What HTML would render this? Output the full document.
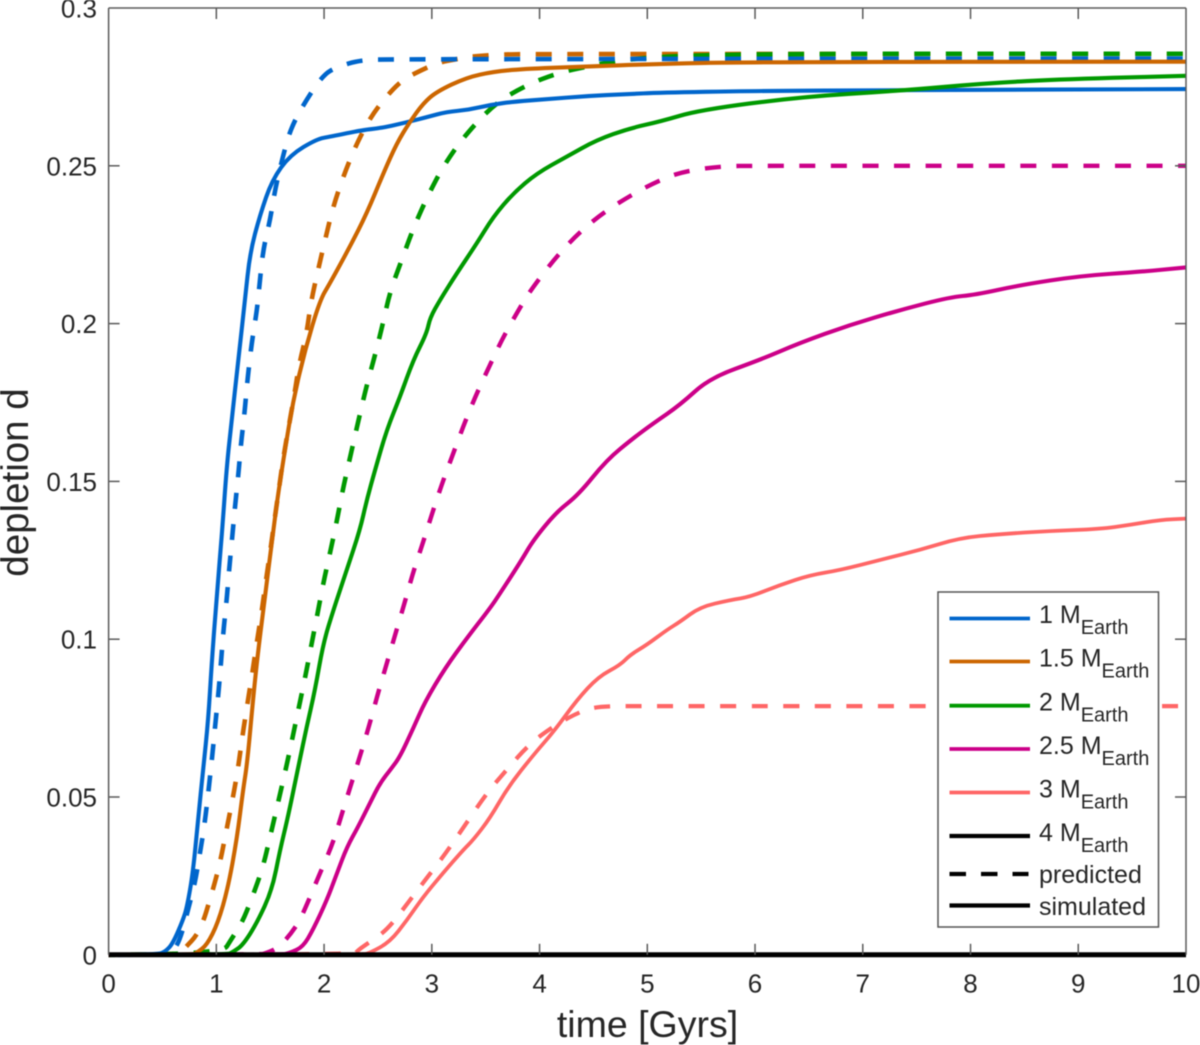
<!DOCTYPE html>
<html lang="en">
<head>
<meta charset="utf-8">
<title>Depletion vs time</title>
<style>
html,body{margin:0;padding:0;background:#fff;width:1200px;height:1045px;overflow:hidden}
svg{display:block;filter:blur(.4px)}
text{font-family:"Liberation Sans",sans-serif;fill:#262626}
</style>
</head>
<body>
<svg id="chart" xmlns="http://www.w3.org/2000/svg" width="1200" height="1045" viewBox="0 0 1200 1045">
  <g id="plot"></g>
  <g id="axes"></g>
  <text x="647.5" y="1037" font-size="37.5" text-anchor="middle">time [Gyrs]</text>
  <text transform="translate(28 482.5) rotate(-90)" font-size="38.5" text-anchor="middle">depletion d</text>
  <g id="legend">
    <rect x="938" y="592" width="220.5" height="335" fill="#fff" stroke="#555" stroke-width="1.5"/>
    <line x1="949.5" x2="1030" y1="618.5" y2="618.5" stroke="#0066cc" stroke-width="3.8"/>
    <text x="1039" y="623" font-size="25">1 M<tspan font-size="20" dy="11">Earth</tspan></text>
    <line x1="949.5" x2="1030" y1="661.5" y2="661.5" stroke="#cc6600" stroke-width="3.8"/>
    <text x="1039" y="666.5" font-size="25">1.5 M<tspan font-size="20" dy="11">Earth</tspan></text>
    <line x1="949.5" x2="1030" y1="705.7" y2="705.7" stroke="#009900" stroke-width="3.8"/>
    <text x="1039" y="710.5" font-size="25">2 M<tspan font-size="20" dy="11">Earth</tspan></text>
    <line x1="949.5" x2="1030" y1="749" y2="749" stroke="#cc0088" stroke-width="3.8"/>
    <text x="1039" y="754" font-size="25">2.5 M<tspan font-size="20" dy="11">Earth</tspan></text>
    <line x1="949.5" x2="1030" y1="792.5" y2="792.5" stroke="#ff6666" stroke-width="3.8"/>
    <text x="1039" y="797.5" font-size="25">3 M<tspan font-size="20" dy="11">Earth</tspan></text>
    <line x1="949.5" x2="1030" y1="836" y2="836" stroke="#000" stroke-width="4.2"/>
    <text x="1039" y="841" font-size="25">4 M<tspan font-size="20" dy="11">Earth</tspan></text>
    <line x1="949.5" x2="1028.5" y1="874" y2="874" stroke="#000" stroke-width="4.2" stroke-dasharray="16.5 15"/>
    <text x="1039" y="883" font-size="25">predicted</text>
    <line x1="949.5" x2="1030" y1="905.5" y2="905.5" stroke="#000" stroke-width="4.2"/>
    <text x="1039" y="915" font-size="25">simulated</text>
  </g>
</svg>
<script>
// Tick labels
const xTickValues = [0,1,2,3,4,5,6,7,8,9,10];
const yTickValues = [0,0.05,0.1,0.15,0.2,0.25,0.3];
const yTickLabels = ['0','0.05','0.1','0.15','0.2','0.25','0.3'];

// Time values (Gyrs) and depletion values for each series
const sim1T = [0,0.458,0.533,0.598,0.69,0.728,0.783,0.83,0.879,0.925,0.957,1.003,1.055,1.096,1.143,1.204,1.266,1.312,1.405,1.517,1.684,1.934,2.055,2.364,2.519,2.735,2.952,3.138,3.339,3.54,3.756,4.066,4.438,4.809,5.118,5.953,7.346,10];
const sim1D = [0,0,0.0012,0.0037,0.011,0.0152,0.026,0.0427,0.0592,0.0744,0.0925,0.1134,0.1346,0.1546,0.1695,0.1885,0.2075,0.2224,0.2344,0.2455,0.2534,0.2585,0.2592,0.2614,0.2619,0.2635,0.2654,0.2671,0.2677,0.2693,0.2703,0.2711,0.2721,0.2727,0.2732,0.2737,0.274,0.2743];

const pred1T = [0,0.55,0.588,0.663,0.737,0.802,0.848,0.895,0.962,0.988,1.018,1.043,1.065,1.096,1.12,1.148,1.173,1.204,1.229,1.26,1.287,1.328,1.375,1.396,1.433,1.499,1.544,1.609,1.684,1.804,1.99,2.12,2.333,2.64,10];
const pred1D = [0,0,0.0006,0.0047,0.0142,0.0228,0.0323,0.0421,0.0628,0.0723,0.0823,0.0925,0.1024,0.1124,0.1226,0.1325,0.142,0.152,0.1621,0.171,0.1816,0.1939,0.2038,0.2107,0.2233,0.2328,0.2423,0.2518,0.2613,0.2692,0.2788,0.2813,0.2835,0.2838,0.284];

const sim15T = [0,0.78,0.82,0.913,1.015,1.108,1.192,1.248,1.287,1.343,1.389,1.452,1.529,1.575,1.637,1.714,1.823,1.962,2.055,2.24,2.396,2.55,2.674,2.797,2.921,3.045,3.324,3.571,3.849,4.375,5.118,5.953,10];
const sim15D = [0,0,0.0007,0.0031,0.0101,0.0212,0.037,0.0522,0.0608,0.0818,0.0966,0.1135,0.1346,0.1464,0.16,0.1758,0.1916,0.2075,0.2128,0.2244,0.2349,0.2476,0.2571,0.264,0.2698,0.2735,0.278,0.2798,0.2807,0.2814,0.2823,0.2829,0.283];

const pred15T = [0,0.65,0.69,0.848,0.96,1.034,1.09,1.155,1.204,1.241,1.287,1.334,1.375,1.421,1.461,1.505,1.544,1.584,1.628,1.721,1.767,1.839,1.876,1.944,2.009,2.083,2.178,2.296,2.442,2.628,2.751,2.921,3.06,3.215,3.354,3.633,3.939,10];
const pred15D = [0,0,0.0015,0.0072,0.0196,0.0291,0.0389,0.05,0.0596,0.0691,0.0792,0.0893,0.0988,0.1087,0.1188,0.1289,0.1388,0.1483,0.159,0.1767,0.1869,0.197,0.2065,0.217,0.2265,0.2369,0.2466,0.2566,0.2661,0.274,0.2777,0.2806,0.2827,0.2837,0.2846,0.2853,0.2854,0.2855];

const sim2T = [0,1.1,1.155,1.247,1.377,1.517,1.591,1.665,1.761,1.839,1.916,1.993,2.086,2.21,2.333,2.396,2.473,2.581,2.705,2.828,2.952,2.983,3.076,3.231,3.417,3.571,3.756,3.973,4.252,4.53,4.839,5.118,5.489,6.417,7.346,8.153,8.896,10];
const sim2D = [0,0,0.0009,0.0031,0.0101,0.0205,0.0332,0.0437,0.0596,0.0723,0.0839,0.0988,0.1092,0.1219,0.1346,0.1441,0.1536,0.1663,0.1768,0.1885,0.1969,0.2018,0.2075,0.2159,0.2254,0.2339,0.2413,0.2476,0.2529,0.2582,0.2619,0.264,0.2677,0.2718,0.2738,0.2762,0.2775,0.2785];

const pred2T = [0,1.05,1.145,1.238,1.331,1.433,1.498,1.572,1.647,1.699,1.761,1.823,1.879,1.937,1.993,2.055,2.117,2.173,2.24,2.327,2.396,2.473,2.55,2.612,2.72,2.828,2.958,3.113,3.308,3.586,3.881,4.174,4.468,4.716,4.994,5.4,6.5,10];
const pred2D = [0,0,0.0053,0.0101,0.018,0.0278,0.0373,0.0481,0.0592,0.0675,0.0776,0.0877,0.0976,0.1077,0.1178,0.1273,0.1372,0.1473,0.1574,0.1705,0.1805,0.19,0.2006,0.2101,0.2201,0.2302,0.2402,0.2503,0.2597,0.2698,0.2756,0.2795,0.2816,0.2833,0.2842,0.285,0.2855,0.2855];

const sim25T = [0,1.6,1.684,1.804,1.897,2.027,2.12,2.213,2.315,2.426,2.519,2.628,2.705,2.828,2.937,3.122,3.324,3.54,3.633,3.834,3.942,4.159,4.36,4.623,4.87,5.056,5.303,5.582,6.046,6.417,6.881,7.346,7.81,8.042,8.46,9.016,9.573,10];
const sim25D = [0,0,0.0006,0.0025,0.0079,0.0174,0.0259,0.0342,0.0405,0.0481,0.0544,0.0592,0.0628,0.0718,0.0802,0.0908,0.1003,0.1098,0.1145,0.1251,0.1314,0.1404,0.1457,0.1568,0.1637,0.1684,0.1742,0.1828,0.1885,0.1939,0.1996,0.2043,0.2084,0.2091,0.2122,0.2151,0.2164,0.2178];

const pred25T = [0,1.4,1.47,1.572,1.684,1.777,1.87,1.962,2.083,2.176,2.343,2.426,2.503,2.587,2.668,2.751,2.828,2.921,3.008,3.101,3.199,3.308,3.417,3.54,3.663,3.849,3.942,4.143,4.345,4.561,4.809,5.056,5.303,5.674,6.046,10];
const pred25D = [0,0,0.0006,0.0022,0.0063,0.011,0.0183,0.0259,0.0354,0.0459,0.064,0.0735,0.0832,0.0929,0.1024,0.1119,0.1214,0.1309,0.1404,0.1499,0.1589,0.1689,0.1779,0.1869,0.1958,0.2069,0.2117,0.2207,0.2281,0.2344,0.2399,0.2445,0.248,0.2499,0.25,0.25];

const sim3T = [0,2.35,2.426,2.612,2.77,2.918,3.104,3.29,3.385,3.54,3.71,3.942,4.143,4.345,4.545,4.747,4.84,4.995,5.18,5.303,5.489,5.767,5.953,6.232,6.51,6.789,7.16,7.531,7.902,8.273,8.737,9.2,9.48,9.758,10];
const sim3D = [0,0,0.0006,0.0041,0.011,0.0183,0.0259,0.0332,0.0364,0.0433,0.0533,0.0633,0.0712,0.0807,0.0881,0.0918,0.095,0.0982,0.1029,0.1055,0.1102,0.1124,0.1134,0.1172,0.1203,0.1219,0.1251,0.1283,0.1321,0.1333,0.1343,0.1349,0.1362,0.1378,0.1382];

const pred3T = [0,2.28,2.315,2.426,2.584,2.751,2.918,3.104,3.277,3.509,3.695,3.896,4.143,4.391,4.561,5.03,10];
const pred3D = [0,0,0.0015,0.0041,0.0079,0.0152,0.0228,0.031,0.0395,0.0512,0.0586,0.0665,0.0728,0.0773,0.0788,0.0788,0.0788];

const sim4T = [0,10];
const sim4D = [0,0];

// Axis functions
const xMin = 0, xMax = 10, yMin = 0, yMax = 0.3;
const plotLeft = 108.6, plotRight = 1186, plotTop = 8, plotBottom = 954.8;
function xScale(v){ return plotLeft + (v - xMin) / (xMax - xMin) * (plotRight - plotLeft); }
function yScale(v){ return plotBottom - (v - yMin) / (yMax - yMin) * (plotBottom - plotTop); }

const SVGNS = 'http://www.w3.org/2000/svg';
const plot = document.getElementById('plot');
const axes = document.getElementById('axes');

// Smooth path through the data points using midpoint quadratic segments
function smoothPath(ts, ds){
  const px = ts.map(xScale);
  const py = ds.map(yScale);
  const n = px.length;
  let d = 'M' + px[0].toFixed(2) + ' ' + py[0].toFixed(2);
  for (let i = 1; i < n - 1; i++) {
    const mx = (px[i] + px[i + 1]) / 2;
    const my = (py[i] + py[i + 1]) / 2;
    d += 'Q' + px[i].toFixed(2) + ' ' + py[i].toFixed(2) + ' ' + mx.toFixed(2) + ' ' + my.toFixed(2);
  }
  d += 'L' + px[n - 1].toFixed(2) + ' ' + py[n - 1].toFixed(2);
  return d;
}

// Draw one series; dashEnd = distance from line end to the start of the final dash
function drawSeries(name, ts, ds, color, width, dashEnd){
  const p = document.createElementNS(SVGNS, 'path');
  
  
  p.setAttribute('d', smoothPath(ts, ds));
  p.setAttribute('fill', 'none');
  p.setAttribute('stroke', color);
  p.setAttribute('stroke-width', width);
  p.setAttribute('stroke-linejoin', 'round');
  plot.appendChild(p);
  if (dashEnd !== null) {
    const period = 31.55;
    p.setAttribute('stroke-dasharray', '16 15.55');
    const L = p.getTotalLength();
    const start = (L - dashEnd) % period;
    p.setAttribute('stroke-dashoffset', (-start).toFixed(2));
  }
}

drawSeries('predicted-line-1-5', pred15T, pred15D, '#cc6600', 4.6, 19.3);
drawSeries('predicted-line-2', pred2T, pred2D, '#009900', 4.6, 19.3);
drawSeries('predicted-line-1', pred1T, pred1D, '#0066cc', 4.6, 19.3);
drawSeries('predicted-line-2-5', pred25T, pred25D, '#cc0088', 4.4, 8);
drawSeries('predicted-line-3', pred3T, pred3D, '#ff6666', 4.2, 24);
drawSeries('simulated-line-1', sim1T, sim1D, '#0066cc', 4.1, null);
drawSeries('simulated-line-1-5', sim15T, sim15D, '#cc6600', 4.1, null);
drawSeries('simulated-line-2', sim2T, sim2D, '#009900', 4.1, null);
drawSeries('simulated-line-2-5', sim25T, sim25D, '#cc0088', 4.1, null);
drawSeries('simulated-line-3', sim3T, sim3D, '#ff6666', 3.8, null);
drawSeries('simulated-line-4', sim4T, sim4D, '#000000', 5, null);

function axisLine(name, x1, y1, x2, y2){
  const l = document.createElementNS(SVGNS, 'line');
  
  
  l.setAttribute('x1', x1);
  l.setAttribute('y1', y1);
  l.setAttribute('x2', x2);
  l.setAttribute('y2', y2);
  l.setAttribute('stroke', '#5a5a5a');
  l.setAttribute('stroke-width', '1.5');
  axes.appendChild(l);
}
function tickText(name, x, y, anchor, str){
  const t = document.createElementNS(SVGNS, 'text');
  
  
  t.setAttribute('x', x);
  t.setAttribute('y', y);
  t.setAttribute('font-size', '26');
  t.setAttribute('text-anchor', anchor);
  t.textContent = str;
  axes.appendChild(t);
}

axisLine('axis-left', plotLeft, plotTop, plotLeft, plotBottom);
axisLine('axis-right', plotRight, plotTop, plotRight, plotBottom);
axisLine('axis-top', plotLeft, plotTop, plotRight, plotTop);

xTickValues.forEach(function(v){
  const x = xScale(v);
  if (v > xMin && v < xMax) {
    axisLine('x-tick-bottom', x, plotBottom, x, plotBottom - 11);
    axisLine('x-tick-top', x, plotTop, x, plotTop + 11);
  }
  tickText('x-tick-label', x, 992.5, 'middle', String(v));
});
yTickValues.forEach(function(v, i){
  const y = yScale(v);
  if (v > yMin && v < yMax) {
    axisLine('y-tick-left', plotLeft, y, plotLeft + 11, y);
    axisLine('y-tick-right', plotRight, y, plotRight - 11, y);
  }
  tickText('y-tick-label', 97, y + 9.5, 'end', yTickLabels[i]);
});
</script>
</body>
</html>
